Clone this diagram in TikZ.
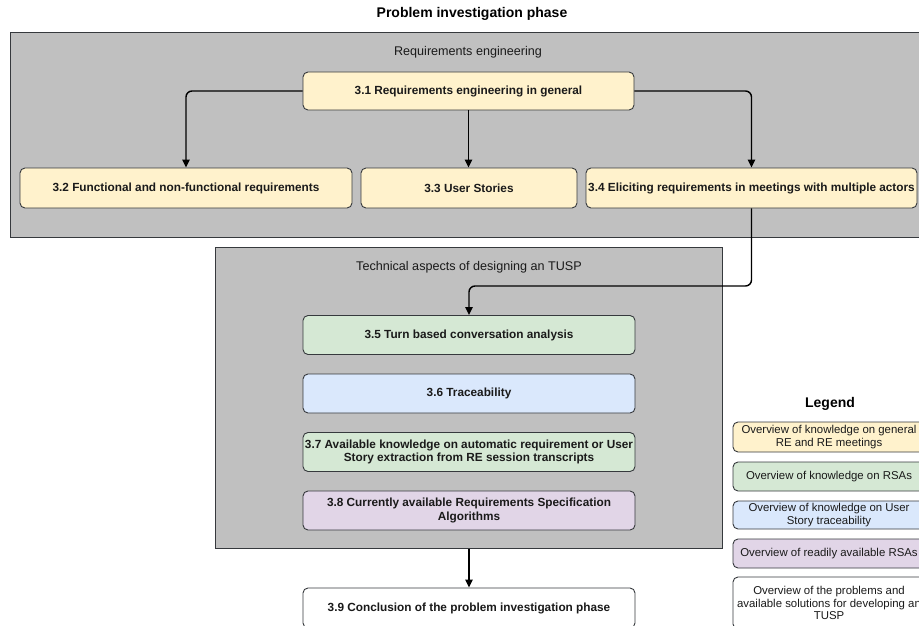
\documentclass[tikz,border=0pt]{standalone}
\usepackage{fontspec}
\setmainfont{Liberation Sans}
\usetikzlibrary{arrows.meta}
\definecolor{yel}{HTML}{FFF2CC}
\definecolor{grn}{HTML}{D5E8D4}
\definecolor{blu}{HTML}{DAE8FC}
\definecolor{pur}{HTML}{E1D5E7}
\definecolor{contfill}{HTML}{C0C0C0}
\definecolor{strk}{HTML}{36393D}
\definecolor{txt}{HTML}{1A1A1A}
\begin{document}
\begin{tikzpicture}[x=1pt,y=-1pt,
  box/.style={draw=strk, rounded corners=5pt, line width=0.9pt, align=center, inner sep=0pt,
    text=txt, font=\fontsize{11.8}{13.5}\selectfont\bfseries},
  leg/.style={draw=strk, rounded corners=5pt, line width=0.9pt, align=center, inner sep=0pt,
    text=txt, font=\fontsize{11.4}{12.5}\selectfont, minimum width=192pt},
  cont/.style={draw=strk, fill=contfill, line width=0.9pt, inner sep=0pt, anchor=north west},
  lbl/.style={text=txt, font=\fontsize{12.6}{14}\selectfont, inner sep=0pt},
  arr/.style={line width=1.4pt, -{Triangle[length=8pt,width=7.5pt]}, rounded corners=6pt}]
\useasboundingbox (0,0) rectangle (919,626);

\node[font=\fontsize{14}{16}\selectfont\bfseries, inner sep=0pt] (title) at (472,14) {Problem investigation phase};

% Requirements engineering container
\node[cont, minimum width=915pt, minimum height=205pt] (re) at (10,32) {};
\node[lbl] (relbl) at (468,52) {Requirements engineering};

\node[box, fill=yel, minimum width=331pt, minimum height=38pt] (n31) at (468.5,91) {3.1 Requirements engineering in general};
\node[box, fill=yel, minimum width=332pt, minimum height=40pt] (n32) at (186,188) {3.2 Functional and non-functional requirements};
\node[box, fill=yel, minimum width=216pt, minimum height=40pt] (n33) at (469,188) {3.3 User Stories};
\node[box, fill=yel, minimum width=331pt, minimum height=40pt] (n34) at (751.5,188) {3.4 Eliciting requirements in meetings with multiple actors};

% Technical aspects container
\node[cont, minimum width=507pt, minimum height=301pt] (tu) at (215,247) {};
\node[lbl] (tulbl) at (469,267) {Technical aspects of designing an TUSP};

\node[box, fill=grn, minimum width=332pt, minimum height=39pt] (n35) at (469,335) {3.5 Turn based conversation analysis};
\node[box, fill=blu, minimum width=332pt, minimum height=39pt] (n36) at (469,393.5) {3.6 Traceability};
\node[box, fill=grn, minimum width=332pt, minimum height=39pt] (n37) at (469,452) {3.7 Available knowledge on automatic requirement or User\\Story extraction from RE session transcripts};
\node[box, fill=pur, minimum width=332pt, minimum height=39pt] (n38) at (469,510.5) {3.8 Currently available Requirements Specification\\Algorithms};
\node[box, fill=white, minimum width=332pt, minimum height=40pt] (n39) at (469,608) {3.9 Conclusion of the problem investigation phase};

% connectors
\draw[arr] (n31.west) -| (n32.north);
\draw[arr] (n31.south) -- (n31.south |- n33.north);
\draw[arr] (n31.east) -| (n34.north);
\coordinate (k) at (469,286);
\draw[arr] (n34.south) |- (k) -- (n35.north);
\draw[arr] (tu.south -| n39.north) -- (n39.north);

% Legend
\node[font=\fontsize{14}{16}\selectfont\bfseries, inner sep=0pt] (legt) at (830,404) {Legend};
\node[leg, fill=yel, minimum height=30pt] (l1) at (829,437) {Overview of knowledge on general\\RE and RE meetings};
\node[leg, fill=grn, minimum height=29pt] (l2) at (829,476.5) {Overview of knowledge on RSAs};
\node[leg, fill=blu, minimum height=28pt] (l3) at (829,515) {Overview of knowledge on User\\Story traceability};
\node[leg, fill=pur, minimum height=29pt] (l4) at (829,553.5) {Overview of readily available RSAs};
\node[leg, fill=white, minimum height=52pt] (l5) at (829,603) {Overview of the problems and\\available solutions for developing an\\TUSP};
\end{tikzpicture}
\end{document}
